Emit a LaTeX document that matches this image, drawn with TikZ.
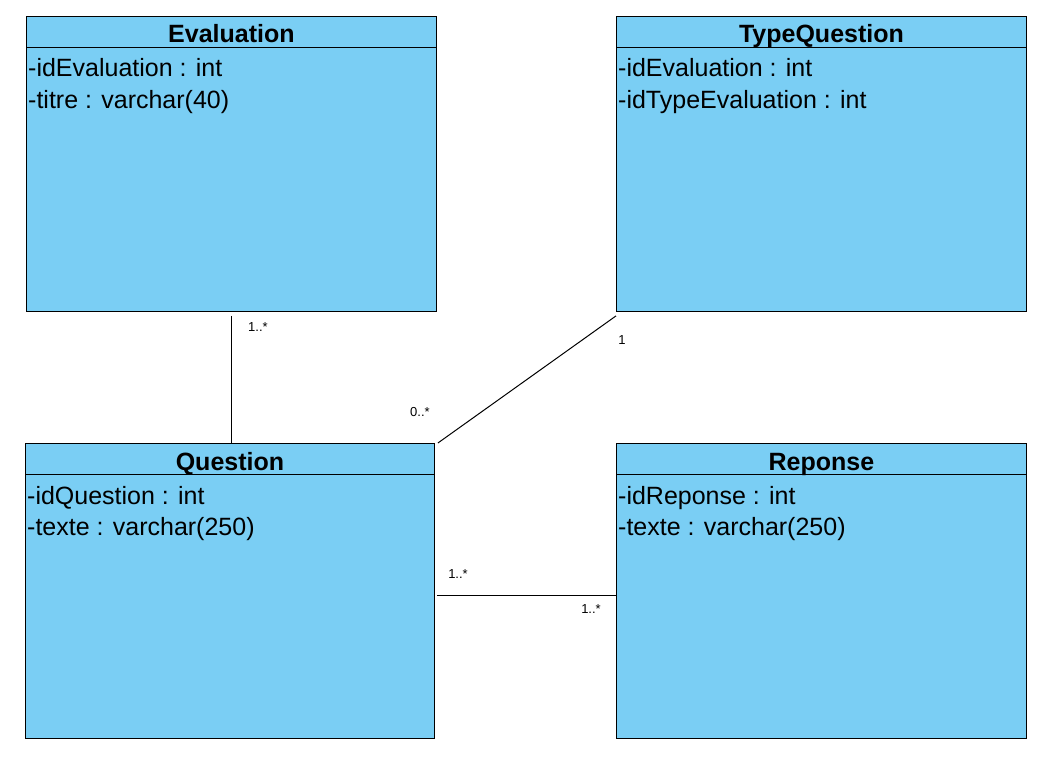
\documentclass[tikz,border=0pt]{standalone}
\usepackage{fontspec}
\setmainfont{Liberation Sans}
\definecolor{classblue}{RGB}{122,206,244}

\begin{document}
\begin{tikzpicture}[x=1pt,y=-1pt,
    cls/.style={rectangle,draw=black,fill=classblue,minimum width=410pt,minimum height=295pt,anchor=north west,inner sep=0pt,line width=0.9pt},
    classname/.style={font=\bfseries\fontsize{25}{29}\selectfont,anchor=base,inner sep=0pt},
    attr/.style={font=\fontsize{25}{29}\selectfont,anchor=base west,inner sep=0pt},
    mult/.style={font=\fontsize{13}{15}\selectfont,inner sep=0pt},
    assoc/.style={draw=black,line width=1pt},
    ]
    \useasboundingbox[fill=white] (0,0) rectangle (1046,760);
    % classes
    \node[cls] (Eval) at (26,16) {};
    \draw[line width=0.9pt] ([yshift=-31pt]Eval.north west) -- ([yshift=-31pt]Eval.north east);
    \node[classname] (EvalName) at ([yshift=-27pt]Eval.north) {Evaluation};
    \node[attr] (EvalId) at ([shift={(2pt,-61pt)}]Eval.north west) {-idEvaluation : int};
    \node[attr] (EvalTitre) at ([shift={(2pt,-92pt)}]Eval.north west) {-titre : varchar(40)};

    \node[cls] (Type) at (616,16) {};
    \draw[line width=0.9pt] ([yshift=-31pt]Type.north west) -- ([yshift=-31pt]Type.north east);
    \node[classname] (TypeName) at ([yshift=-27pt]Type.north) {TypeQuestion};
    \node[attr] (TypeId) at ([shift={(2pt,-61pt)}]Type.north west) {-idEvaluation : int};
    \node[attr] (TypeIdType) at ([shift={(2pt,-92pt)}]Type.north west) {-idTypeEvaluation : int};

    \node[cls,minimum width=409pt] (Quest) at (25,443) {};
    \draw[line width=0.9pt] ([yshift=-31pt]Quest.north west) -- ([yshift=-31pt]Quest.north east);
    \node[classname] (QuestName) at ([yshift=-27pt]Quest.north) {Question};
    \node[attr] (QuestId) at ([shift={(2pt,-61pt)}]Quest.north west) {-idQuestion : int};
    \node[attr] (QuestTexte) at ([shift={(2pt,-92pt)}]Quest.north west) {-texte : varchar(250)};

    \node[cls] (Rep) at (616,443) {};
    \draw[line width=0.9pt] ([yshift=-31pt]Rep.north west) -- ([yshift=-31pt]Rep.north east);
    \node[classname] (RepName) at ([yshift=-27pt]Rep.north) {Reponse};
    \node[attr] (RepId) at ([shift={(2pt,-61pt)}]Rep.north west) {-idReponse : int};
    \node[attr] (RepTexte) at ([shift={(2pt,-92pt)}]Rep.north west) {-texte : varchar(250)};

    % associations
    \draw[assoc] ([yshift=-4pt]Eval.south) -- (Eval.south |- Quest.north);
    \draw[assoc] ([yshift=-4pt]Type.south west) -- ([xshift=3pt]Quest.north east);
    \draw[assoc] ([shift={(2pt,-4.5pt)}]Quest.east) -- ([yshift=-4.5pt]Quest.east -| Rep.west);

    % multiplicities
    \node[mult] (EvalMult) at (258,327) {1..*};
    \node[mult] (TypeMult) at (622,340) {1};
    \node[mult] (QuestTypeMult) at (420,412) {0..*};
    \node[mult] (QuestRepMult) at (458,574) {1..*};
    \node[mult] (RepMult) at (591,609) {1..*};
\end{tikzpicture}
\end{document}
